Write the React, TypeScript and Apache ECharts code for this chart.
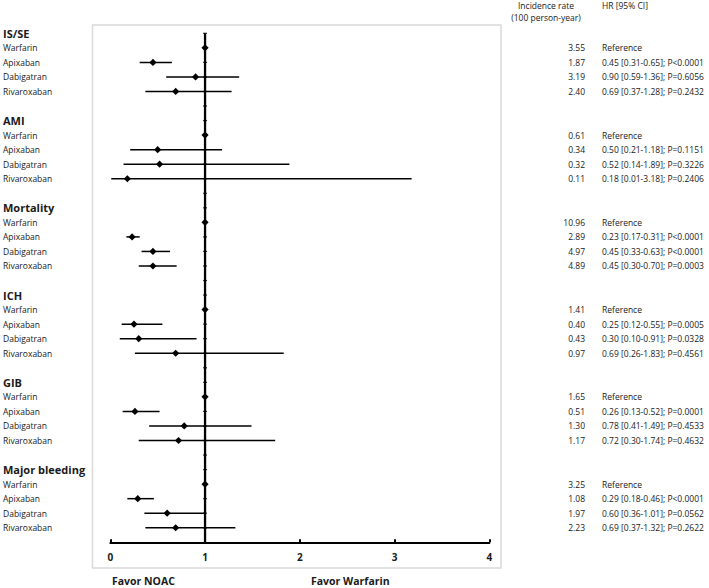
import React, { useEffect, useRef } from "react";
import * as echarts from "echarts";

const groups = ["IS/SE", "AMI", "Mortality", "ICH", "GIB", "Major bleeding"];
const drugs = ["Warfarin", "Apixaban", "Dabigatran", "Rivaroxaban"];
const incidence = [
  [3.55, 1.87, 3.19, 2.4],
  [0.61, 0.34, 0.32, 0.11],
  [10.96, 2.89, 4.97, 4.89],
  [1.41, 0.4, 0.43, 0.97],
  [1.65, 0.51, 1.3, 1.17],
  [3.25, 1.08, 1.97, 2.23],
];
const hr = [
  [1, 0.45, 0.9, 0.69],
  [1, 0.5, 0.52, 0.18],
  [1, 0.23, 0.45, 0.45],
  [1, 0.25, 0.3, 0.69],
  [1, 0.26, 0.78, 0.72],
  [1, 0.29, 0.6, 0.69],
];
const lower = [
  [null, 0.31, 0.59, 0.37],
  [null, 0.21, 0.14, 0.01],
  [null, 0.17, 0.33, 0.3],
  [null, 0.12, 0.1, 0.26],
  [null, 0.13, 0.41, 0.3],
  [null, 0.18, 0.36, 0.37],
];
const upper = [
  [null, 0.65, 1.36, 1.28],
  [null, 1.18, 1.89, 3.18],
  [null, 0.31, 0.63, 0.7],
  [null, 0.55, 0.91, 1.83],
  [null, 0.52, 1.49, 1.74],
  [null, 0.46, 1.01, 1.32],
];
const pValues = [
  ["", "P<0.0001", "P=0.6056", "P=0.2432"],
  ["", "P=0.1151", "P=0.3226", "P=0.2406"],
  ["", "P<0.0001", "P<0.0001", "P=0.0003"],
  ["", "P=0.0005", "P=0.0328", "P=0.4561"],
  ["", "P=0.0001", "P=0.4533", "P=0.4632"],
  ["", "P<0.0001", "P=0.0562", "P=0.2622"],
];
const xTicks = [0, 1, 2, 3, 4];

const ROWS_PER_GROUP = 6;
const TOTAL_ROWS = groups.length * ROWS_PER_GROUP - 1; // 35

const FONT = "'Open Sans', sans-serif";
const TXT = "#1a1a1a";

export default function App() {
  const ref = useRef<HTMLDivElement>(null);

  useEffect(() => {
    if (!ref.current) return;
    const chart = echarts.init(ref.current, null, { renderer: "svg" });

    const leftLabels: Record<number, string> = {};
    const incLabels: Record<number, string> = {};
    const hrLabels: Record<number, string> = {};
    const ciData: any[] = [];
    groups.forEach((g, gi) => {
      const base = gi * ROWS_PER_GROUP;
      leftLabels[base] = "{h|" + g + "}";
      drugs.forEach((d, di) => {
        const row = base + di + 1;
        leftLabels[row] = "{n|" + d + "}";
        incLabels[row] = incidence[gi][di].toFixed(2);
        const lo = lower[gi][di];
        const up = upper[gi][di];
        hrLabels[row] =
          lo == null
            ? "Reference"
            : `${hr[gi][di].toFixed(2)} [${lo.toFixed(2)}-${(up as number).toFixed(2)}]; ${pValues[gi][di]}`;
        ciData.push([lo == null ? hr[gi][di] : lo, up == null ? hr[gi][di] : up, hr[gi][di], row, lo == null ? 0 : 1]);
      });
    });
    const tickRows: number[][] = [];
    for (let r = 0; r < TOTAL_ROWS; r++) tickRows.push([1, r]);

    const yBase = {
      type: "value",
      min: 0,
      max: TOTAL_ROWS,
      interval: 1,
      inverse: true,
      axisLine: { show: false },
      axisTick: { show: false },
      splitLine: { show: false },
    };

    chart.setOption({
      animation: false,
      backgroundColor: "#ffffff",
      grid: { left: 108.3, right: 709 - 489.3, top: 33.3, height: 509 },
      xAxis: {
        type: "value",
        min: 0,
        max: 4,
        interval: 1,
        axisLine: { show: true, onZero: false, lineStyle: { color: "#000", width: 2 } },
        axisTick: { show: true, inside: true, length: 3, lineStyle: { color: "#000", width: 2 } },
        splitLine: { show: false },
        axisLabel: {
          margin: 10,
          fontFamily: FONT,
          fontSize: 10,
          fontWeight: "bold",
          color: TXT,
          formatter: (v: number) => (xTicks.includes(v) ? String(v) : ""),
        },
      },
      yAxis: [
        {
          ...yBase,
          position: "left",
          axisLabel: {
            align: "left",
            margin: 107.3,
            formatter: (v: number) => leftLabels[v] || "",
            rich: {
              h: { fontFamily: FONT, fontSize: 11, fontWeight: "bold", color: TXT },
              n: { fontFamily: FONT, fontSize: 8.5, color: TXT },
            },
          },
        },
        {
          ...yBase,
          position: "right",
          axisLabel: {
            align: "right",
            margin: 585 - 489.3,
            fontFamily: FONT,
            fontSize: 8.5,
            color: TXT,
            formatter: (v: number) => incLabels[v] || "",
          },
        },
        {
          ...yBase,
          position: "right",
          axisLabel: {
            align: "left",
            margin: 602 - 489.3,
            fontFamily: FONT,
            fontSize: 8.5,
            color: TXT,
            formatter: (v: number) => hrLabels[v] || "",
          },
        },
      ],
      series: [
        {
          type: "line",
          data: [
            [1, 0],
            [1, TOTAL_ROWS],
          ],
          symbol: "none",
          lineStyle: { color: "#000", width: 2.3 },
          z: 3,
        },
        {
          type: "scatter",
          data: tickRows,
          symbol: "rect",
          symbolSize: [4, 1.2],
          itemStyle: { color: "#000" },
          z: 3,
        },
        {
          type: "custom",
          data: ciData,
          z: 4,
          renderItem: (params: any, api: any) => {
            const row = api.value(3);
            const p1 = api.coord([api.value(0), row]);
            const p2 = api.coord([api.value(1), row]);
            const pc = api.coord([api.value(2), row]);
            const hw = 3.6;
            const hh = 3.6;
            const children: any[] = [];
            if (api.value(4) === 1) {
              children.push({
                type: "line",
                shape: { x1: p1[0], y1: p1[1], x2: p2[0], y2: p2[1] },
                style: { stroke: "#000", lineWidth: 1.5 },
              });
            }
            children.push({
              type: "polygon",
              shape: {
                points: [
                  [pc[0] - hw, pc[1]],
                  [pc[0], pc[1] - hh],
                  [pc[0] + hw, pc[1]],
                  [pc[0], pc[1] + hh],
                ],
              },
              style: { fill: "#000" },
            });
            return { type: "group", children };
          },
        },
      ],
      graphic: [
        {
          type: "rect",
          shape: { x: 92.5, y: 25, width: 408.5, height: 543 },
          style: { fill: "none", stroke: "#d9d9d9", lineWidth: 1.5 },
          z: 0,
        },
        {
          type: "text",
          x: 546,
          y: 5,
          style: {
            text: "Incidence rate",
            fontFamily: FONT,
            fontSize: 8.5,
            fill: TXT,
            align: "center",
            verticalAlign: "middle",
          },
        },
        {
          type: "text",
          x: 546,
          y: 17.5,
          style: {
            text: "(100 person-year)",
            fontFamily: FONT,
            fontSize: 8.5,
            fill: TXT,
            align: "center",
            verticalAlign: "middle",
          },
        },
        {
          type: "text",
          x: 602,
          y: 5,
          style: {
            text: "HR [95% CI]",
            fontFamily: FONT,
            fontSize: 8.5,
            fill: TXT,
            align: "left",
            verticalAlign: "middle",
          },
        },
        {
          type: "text",
          x: 112,
          y: 580.5,
          style: {
            text: "Favor NOAC",
            fontFamily: FONT,
            fontSize: 10.5,
            fontWeight: "bold",
            fill: TXT,
            align: "left",
            verticalAlign: "middle",
          },
        },
        {
          type: "text",
          x: 311,
          y: 580.5,
          style: {
            text: "Favor Warfarin",
            fontFamily: FONT,
            fontSize: 10.5,
            fontWeight: "bold",
            fill: TXT,
            align: "left",
            verticalAlign: "middle",
          },
        },
      ],
    });

    return () => chart.dispose();
  }, []);

  return (
    <div
      ref={ref}
      style={{ position: "fixed", left: 0, top: 0, width: 709, height: 588, background: "#fff" }}
    />
  );
}
